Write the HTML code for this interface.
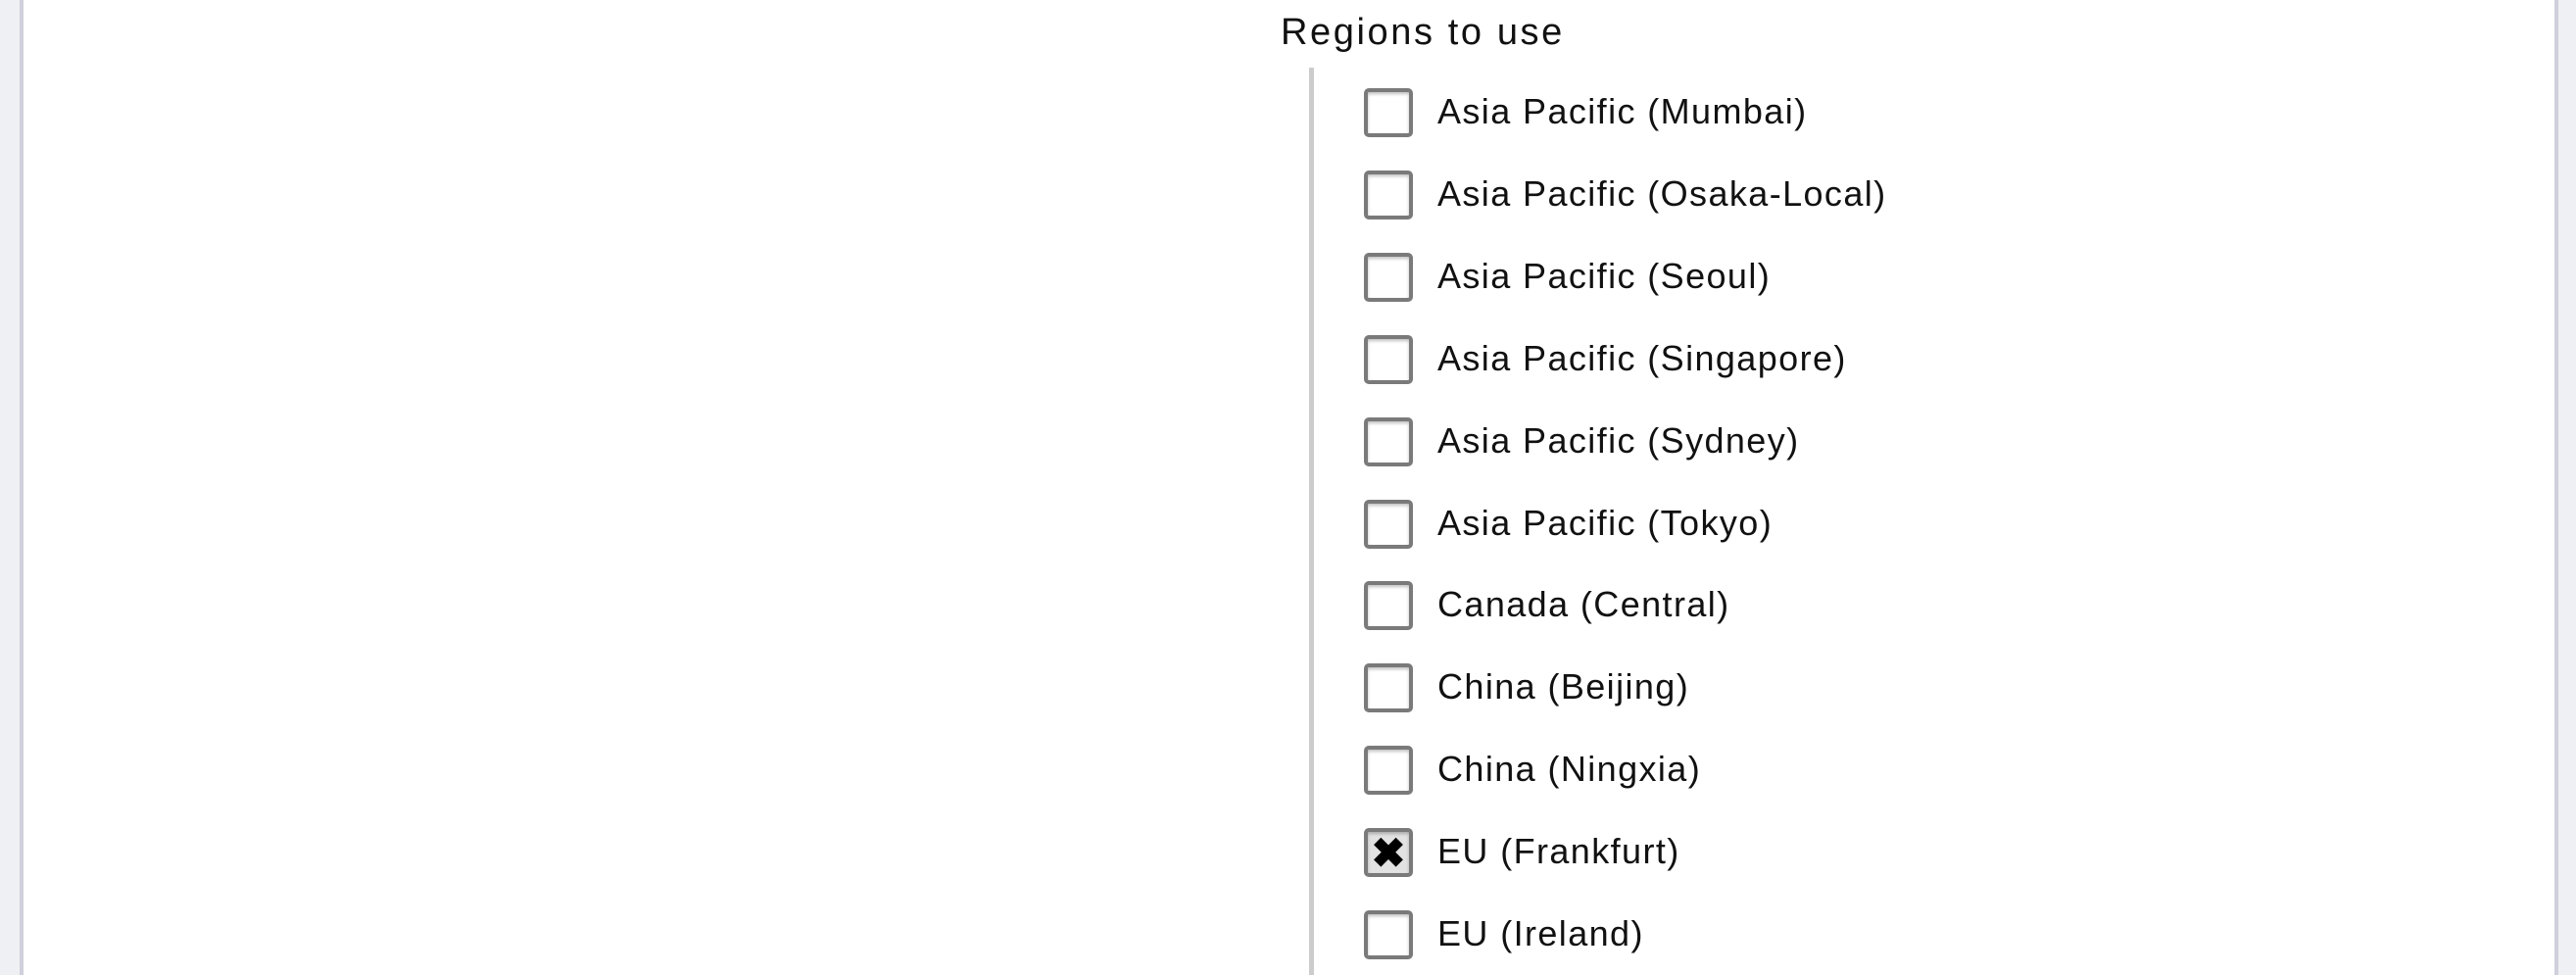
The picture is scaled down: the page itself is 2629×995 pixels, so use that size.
<!DOCTYPE html>
<html><head><meta charset="utf-8"><style>
body{margin:0;width:2629px;height:995px;position:relative;overflow:hidden;background:#fff;font-family:"Liberation Sans",sans-serif;color:#111}
.side{position:absolute;top:0;height:995px;background:#eff0f3}
.bd{position:absolute;top:0;height:995px;width:4px;background:#cfd0dc}
.title{position:absolute;left:1307px;top:12px;font-size:38px;letter-spacing:2.6px}
.vline{position:absolute;left:1336px;top:69px;width:5px;height:926px;background:#cccccc}
.row{position:absolute;left:1392px;height:50px}
.cb{position:absolute;left:0;top:0;width:42px;height:42px;border:4px solid #7a7a7a;border-radius:5px;box-shadow:inset 0 2px 3px rgba(0,0,0,0.25);background:#fff}
.cb.on{background:#e2e2e2;font-size:42px;line-height:44px;text-align:center;color:#000;font-weight:bold}
.lb{position:absolute;left:75px;top:3px;font-size:36px;white-space:nowrap;letter-spacing:1.4px}
</style></head><body>
<div class="side" style="left:0;width:20px"></div>
<div class="bd" style="left:20px"></div>
<div class="bd" style="left:2607px"></div>
<div class="side" style="left:2611px;width:18px"></div>
<div class="title">Regions to use</div>
<div class="vline"></div>
<div id="list"></div>
<script>
const regions=["Asia Pacific (Mumbai)","Asia Pacific (Osaka-Local)","Asia Pacific (Seoul)","Asia Pacific (Singapore)","Asia Pacific (Sydney)","Asia Pacific (Tokyo)","Canada (Central)","China (Beijing)","China (Ningxia)","EU (Frankfurt)","EU (Ireland)"];
const checked=[0,0,0,0,0,0,0,0,0,1,0];
const list=document.getElementById('list');
regions.forEach((r,i)=>{
  const row=document.createElement('div');
  row.className='row';
  row.style.top=(90+i*83.9)+'px';
  
  
  const cb=document.createElement('div');
  cb.className='cb'+(checked[i]?' on':'');
  
  
  if(checked[i]) cb.textContent='✖';
  const lb=document.createElement('div');
  lb.className='lb';
  
  
  lb.textContent=r;
  row.appendChild(cb);row.appendChild(lb);list.appendChild(row);
});
</script>
</body></html>
